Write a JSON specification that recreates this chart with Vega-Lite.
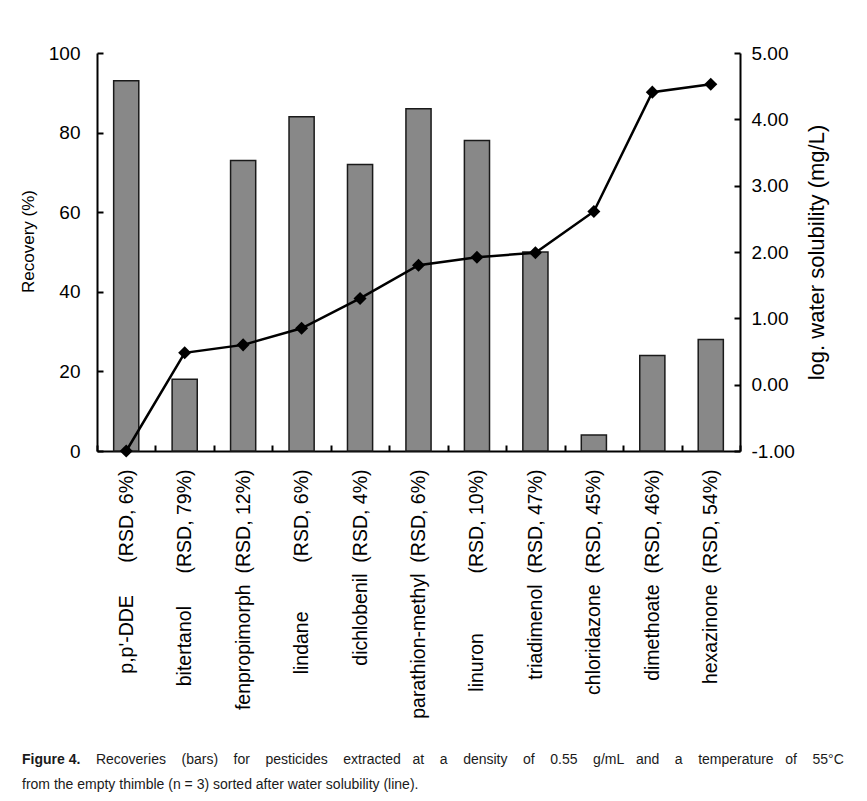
{
  "$schema": "https://vega.github.io/schema/vega-lite/v6.json",
  "width": 643,
  "height": 398,
  "autosize": {"type": "none"},
  "padding": {"left": 97, "top": 53, "right": 127, "bottom": 350},
  "background": "white",
  "data": {
    "values": [
      {"pesticide": "p,p'-DDE", "rsd": "6%", "label": "p,p'-DDE\u00a0\u00a0\u00a0\u00a0\u00a0\u00a0(RSD, 6%)", "recovery": 93, "logS": -1.0},
      {"pesticide": "bitertanol", "rsd": "79%", "label": "bitertanol\u00a0\u00a0\u00a0\u00a0\u00a0\u00a0(RSD, 79%)", "recovery": 18, "logS": 0.48},
      {"pesticide": "fenpropimorph", "rsd": "12%", "label": "fenpropimorph\u00a0\u00a0(RSD, 12%)", "recovery": 73, "logS": 0.60},
      {"pesticide": "lindane", "rsd": "6%", "label": "lindane\u00a0\u00a0\u00a0\u00a0\u00a0\u00a0\u00a0\u00a0\u00a0(RSD, 6%)", "recovery": 84, "logS": 0.85},
      {"pesticide": "dichlobenil", "rsd": "4%", "label": "dichlobenil\u00a0\u00a0(RSD, 4%)", "recovery": 72, "logS": 1.30},
      {"pesticide": "parathion-methyl", "rsd": "6%", "label": "parathion-methyl\u00a0\u00a0(RSD, 6%)", "recovery": 86, "logS": 1.80},
      {"pesticide": "linuron", "rsd": "10%", "label": "linuron\u00a0\u00a0\u00a0\u00a0\u00a0\u00a0\u00a0\u00a0\u00a0\u00a0\u00a0(RSD, 10%)", "recovery": 78, "logS": 1.92},
      {"pesticide": "triadimenol", "rsd": "47%", "label": "triadimenol\u00a0\u00a0(RSD, 47%)", "recovery": 50, "logS": 1.99},
      {"pesticide": "chloridazone", "rsd": "45%", "label": "chloridazone\u00a0\u00a0(RSD, 45%)", "recovery": 4, "logS": 2.61},
      {"pesticide": "dimethoate", "rsd": "46%", "label": "dimethoate\u00a0\u00a0(RSD, 46%)", "recovery": 24, "logS": 4.41},
      {"pesticide": "hexazinone", "rsd": "54%", "label": "hexazinone\u00a0\u00a0(RSD, 54%)", "recovery": 28, "logS": 4.53}
    ]
  },
  "encoding": {
    "x": {
      "field": "label",
      "type": "nominal",
      "sort": null,
      "scale": {"paddingInner": 0, "paddingOuter": 0},
      "axis": {
        "title": null,
        "labelAngle": -90,
        "labelAlign": "right",
        "labelBaseline": "middle",
        "labelFontSize": 19.5,
        "labelPadding": 24,
        "tickSize": -6,
        "tickBand": "extent",
        "labelLimit": 0
      }
    }
  },
  "layer": [
    {
      "mark": {"type": "bar", "width": {"band": 0.43}, "fill": "#888888", "stroke": "#1a1a1a", "strokeWidth": 1.5},
      "encoding": {
        "y": {
          "field": "recovery",
          "type": "quantitative",
          "scale": {"domain": [0, 100], "nice": false},
          "axis": {
            "title": "Recovery (%)",
            "titleFontSize": 17,
            "titleFontWeight": "normal",
            "titlePadding": 11,
            "titleY": 188,
            "values": [0, 20, 40, 60, 80, 100],
            "format": "d",
            "labelFontSize": 19,
            "labelPadding": 23,
            "tickSize": -6,
            "grid": false
          }
        }
      }
    },
    {
      "mark": {"type": "line", "color": "black", "strokeWidth": 2.5},
      "encoding": {
        "y": {
          "field": "logS",
          "type": "quantitative",
          "scale": {"domain": [-1, 5], "nice": false},
          "axis": {
            "orient": "right",
            "title": "log. water solubility (mg/L)",
            "titleFontSize": 22,
            "titleFontWeight": "normal",
            "titleAngle": 270,
            "titleBaseline": "top",
            "titlePadding": 12,
            "values": [-1, 0, 1, 2, 3, 4, 5],
            "labelExpr": "datum.value < 0 ? '-' + format(-datum.value, '.2f') : format(datum.value, '.2f')",
            "labelFontSize": 19,
            "labelPadding": 17,
            "tickSize": -6,
            "grid": false
          }
        }
      }
    },
    {
      "mark": {"type": "point", "shape": "diamond", "filled": true, "color": "black", "size": 170, "opacity": 1},
      "encoding": {
        "y": {"field": "logS", "type": "quantitative", "scale": {"domain": [-1, 5], "nice": false}, "axis": null}
      }
    }
  ],
  "resolve": {"scale": {"y": "independent"}},
  "title": {
    "text": "Figure 4.",
    "subtitle": [
      "\u200b\u00a0\u00a0\u00a0\u00a0\u00a0\u00a0\u00a0\u00a0\u00a0\u00a0\u00a0\u00a0\u00a0\u00a0\u00a0\u00a0\u00a0\u00a0\u00a0Recoveries\u00a0\u00a0\u00a0\u00a0(bars)\u00a0\u00a0\u00a0\u00a0for\u00a0\u00a0\u00a0\u00a0pesticides\u00a0\u00a0\u00a0\u00a0extracted\u00a0\u00a0\u00a0at\u00a0\u00a0\u00a0\u00a0a\u00a0\u00a0\u00a0\u00a0density\u00a0\u00a0\u00a0\u00a0of\u00a0\u00a0\u00a0\u00a00.55\u00a0\u00a0\u00a0\u00a0g/mL\u00a0\u00a0\u00a0and\u00a0\u00a0\u00a0\u00a0a\u00a0\u00a0\u00a0\u00a0temperature\u00a0\u00a0\u00a0of\u00a0\u00a0\u00a0\u00a055°C",
      "from the empty thimble (n = 3) sorted after water solubility (line)."
    ],
    "orient": "bottom",
    "anchor": "start",
    "frame": "group",
    "dx": -75,
    "offset": 35,
    "font": "Liberation Sans",
    "fontSize": 14,
    "fontWeight": "bold",
    "color": "#1a1a1a",
    "subtitleFont": "Liberation Sans",
    "subtitleFontSize": 14,
    "subtitleColor": "#1a1a1a",
    "subtitlePadding": -14,
    "subtitleLineHeight": 25
  },
  "config": {
    "view": {"stroke": null},
    "font": "Liberation Sans",
    "axis": {
      "domainColor": "black",
      "domainWidth": 2,
      "tickColor": "black",
      "tickWidth": 2,
      "labelColor": "black",
      "titleColor": "black",
      "labelFont": "Liberation Sans",
      "titleFont": "Liberation Sans"
    }
  }
}
